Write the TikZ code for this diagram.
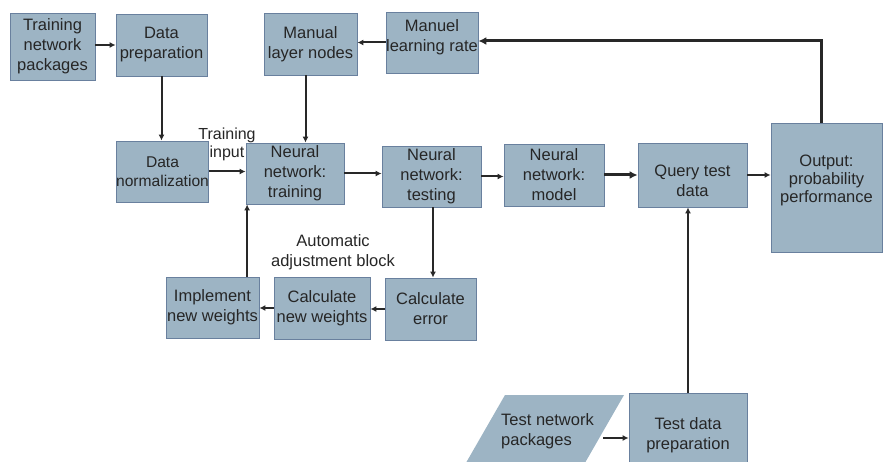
\documentclass[tikz,border=0pt]{standalone}
\usepackage{fontspec}
\setmainfont{Liberation Sans}
\usetikzlibrary{arrows.meta,calc}
\definecolor{boxfill}{RGB}{157,180,196}
\definecolor{boxline}{RGB}{105,128,158}
\definecolor{lncol}{RGB}{40,40,40}
\begin{document}
\begin{tikzpicture}[x=1pt,y=-1pt,
  font=\fontsize{16.5}{20}\selectfont,
  box/.style={draw=boxline,line width=0.8pt,fill=boxfill,align=center,inner sep=0pt,text=black!85},
  arr/.style={draw=lncol,line width=2pt,-{Latex[length=6pt,width=6pt]}},
  thk/.style={line width=3pt,-{Latex[length=8pt,width=8pt]}},
  lbl/.style={align=center,inner sep=0pt,text=black!85}]
\useasboundingbox (0,0) rectangle (883,462);
\clip (0,0) rectangle (883,462);
% boxes
\node[box,minimum width=85pt,minimum height=67pt] (tnp) at (52.5,46.5) {Training\\network\\packages};
\node[box,minimum width=91pt,minimum height=62pt] (dp) at (161.5,45) {Data\\preparation};
\node[box,minimum width=91pt,minimum height=61pt,font=\fontsize{15.6}{19.5}\selectfont] (dn) at (162.5,171.5) {Data\\normalization};
\node[box,minimum width=98pt,minimum height=61pt] (train) at (295,173.5) {Neural\\network:\\training};
\node[box,minimum width=93pt,minimum height=62pt] (mln) at (310.5,44) {Manual\\layer nodes};
\node[box,minimum width=92pt,minimum height=61pt,
  label={[lbl,yshift=5pt,name=mlrt]center:Manuel\\learning rate}] (mlr) at (432,42.5) {};
\node[box,minimum width=99pt,minimum height=61pt] (test) at (431.5,176.5) {Neural\\network:\\testing};
\node[box,minimum width=100pt,minimum height=62pt] (model) at (554,175) {Neural\\network:\\model};
\node[box,minimum width=109pt,minimum height=64pt,
  label={[lbl,yshift=-6pt,name=queryt]center:Query test\\data}] (query) at (692.5,175) {};
\node[box,minimum width=111pt,minimum height=129pt,
  label={[lbl,yshift=7pt,name=outt,font=\fontsize{16.5}{18}\selectfont]center:Output:\\probability\\performance}] (output) at (826.5,187.5) {};
\node[box,minimum width=91pt,minimum height=62pt] (ce) at (430.5,309) {Calculate\\error};
\node[box,minimum width=96pt,minimum height=62pt] (cnw) at (322,308) {Calculate\\new weights};
\node[box,minimum width=93pt,minimum height=61pt] (inw) at (212.5,307.5) {Implement\\new weights};
\node[box,minimum width=118pt,minimum height=84pt] (tdp) at (688,435) {Test data\\preparation};
% parallelogram
\fill[boxfill] (505,395) -- (624,395) -- (578,475) -- (459,475) -- cycle;
\node[lbl,align=left,anchor=west] (tnpk) at (501,431) {Test network\\packages};
% labels
\node[lbl,font=\fontsize{16}{18}\selectfont] (tin) at (227,144) {Training\\input};
\node[lbl,font=\fontsize{16.5}{20}\selectfont] (auto) at (333,252) {Automatic\\adjustment block};
% connectors
\draw[arr] (tnp.east |- dp.west) -- (dp.west);
\draw[arr] (dp.south) -- (dp.south |- dn.north);
\draw[arr] (dn.east) -- (dn.east -| train.west);
\draw[arr] (mlr.west) -- (mlr.west -| mln.east);
\draw[arr] ([xshift=-5pt]mln.south) -- ([xshift=-5pt]mln.south |- train.north);
\draw[arr] (train.east) -- (train.east -| test.west);
\draw[arr] (test.east) -- (test.east -| model.west);
\draw[arr,thk] (model.east) -- (model.east -| query.west);
\draw[arr] (query.east) -- (query.east -| output.west);
\draw[arr] ([xshift=1.5pt]test.south) -- ([xshift=1.5pt]test.south |- ce.north);
\draw[arr] (ce.west) -- (ce.west -| cnw.east);
\draw[arr] (cnw.west) -- (cnw.west -| inw.east);
\draw[arr] ([xshift=1.5pt]train.south west |- inw.north) -- ([xshift=1.5pt]train.south west);
\draw[arr] (tdp.north) -- (tdp.north |- query.south);
\coordinate (fb) at (821,41);
\draw[arr,thk] (output.north -| fb) -- (fb) -- (fb -| mlr.east);
\coordinate (tnpr) at (603,438);
\draw[arr] (tnpr) -- (tnpr -| tdp.west);
\end{tikzpicture}
\end{document}
